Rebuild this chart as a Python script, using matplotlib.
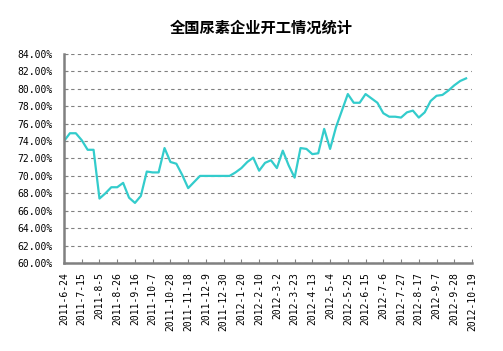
import numpy as np
import matplotlib.pyplot as plt

plt.rcParams['font.family'] = ['Noto Sans CJK SC', 'DejaVu Sans']

# weekly urea plant operating rate, 2011-6-24 .. 2012-10-12 (%)
rate = [74.0, 74.9, 74.9, 74.1, 73.0, 73.0, 67.4, 68.0, 68.7, 68.7,
        69.2, 67.5, 66.9, 67.7, 70.5, 70.4, 70.4, 73.2, 71.6, 71.4,
        70.1, 68.6, 69.3, 70.0, 70.0, 70.0, 70.0, 70.0, 70.0, 70.4,
        70.9, 71.6, 72.1, 70.6, 71.5, 71.8, 70.9, 72.9, 71.2, 69.8,
        73.2, 73.1, 72.5, 72.6, 75.4, 73.1, 75.6, 77.5, 79.4, 78.4,
        78.4, 79.4, 78.9, 78.4, 77.2, 76.8, 76.8, 76.7, 77.3, 77.5,
        76.7, 77.3, 78.6, 79.2, 79.3, 79.8, 80.4, 80.9, 81.2]

tick_labels = ['2011-6-24', '2011-7-15', '2011-8-5', '2011-8-26', '2011-9-16',
               '2011-10-7', '2011-10-28', '2011-11-18', '2011-12-9', '2011-12-30',
               '2012-1-20', '2012-2-10', '2012-3-2', '2012-3-23', '2012-4-13',
               '2012-5-4', '2012-5-25', '2012-6-15', '2012-7-6', '2012-7-27',
               '2012-8-17', '2012-9-7', '2012-9-28', '2012-10-19']

fig = plt.figure(figsize=(5.03, 3.51), dpi=100)
ax = fig.add_axes([64/503, 88/351, 408/503, 209/351])

x = np.arange(len(rate))
ax.plot(x, rate, color='#33CCCC', lw=1.6)

ax.set_xlim(0, 69)
ax.set_ylim(60, 84)
ax.set_xticks(np.arange(0, 70, 3))
ax.set_xticklabels(tick_labels, rotation=90, fontsize=7, family='DejaVu Sans Mono')
yt = np.arange(60, 85, 2)
ax.set_yticks(yt)
ax.set_yticklabels(['%.2f%%' % v for v in yt], fontsize=7, family='DejaVu Sans Mono')

ax.grid(axis='y', color='#808080', ls=(0, (3, 3)), lw=0.8)
ax.tick_params(direction='in', length=3, color='#808080')
ax.tick_params(axis='y', pad=8)
ax.tick_params(axis='x', pad=6.5)
for s in ['top', 'right']:
    ax.spines[s].set_visible(False)
for s in ['left', 'bottom']:
    ax.spines[s].set_color('#808080')
    ax.spines[s].set_linewidth(1.8)

fig.text(0.52, 0.92, '全国尿素企业开工情况统计', ha='center', va='center',
         fontsize=11, fontweight='bold')

fig.savefig('out.png', dpi=100)
